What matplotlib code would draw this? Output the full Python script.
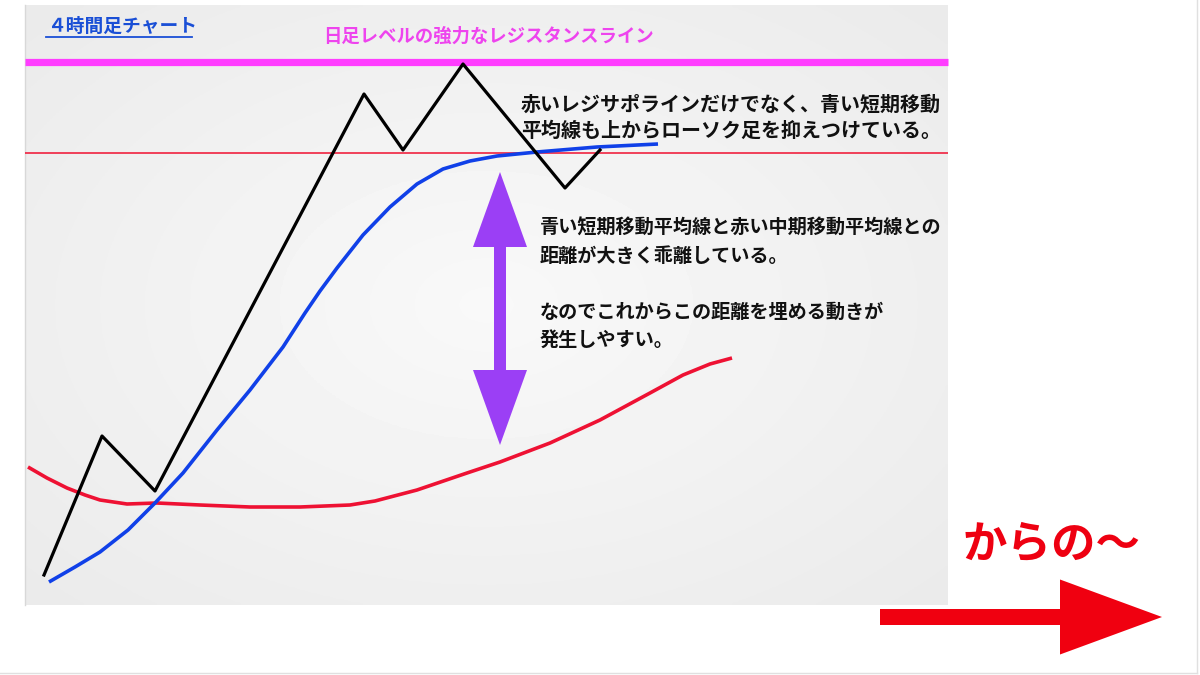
import numpy as np
import matplotlib
matplotlib.use('Agg')
import matplotlib.pyplot as plt
from matplotlib.patches import FancyArrow

plt.rcParams['font.family'] = ['Noto Sans CJK JP', 'DejaVu Sans']

# 画像座標（px）で読み取ったチャートの値
candle_x = [44, 102, 155, 364, 403, 463, 565, 600]
candle_y = [575, 436, 491, 94, 150, 64, 188, 150]

short_ma_x = [49, 75, 100, 128, 155, 183, 217, 250, 283, 305, 320, 337, 363, 390, 417, 443, 470, 497, 537, 597, 658]
short_ma_y = [582, 567, 552, 530, 503, 473, 430, 390, 347, 313, 291, 268, 235, 207, 184, 169, 161, 156, 152, 147, 144]

mid_ma_x = [28, 47, 67, 85, 100, 127, 157, 200, 250, 300, 350, 375, 417, 467, 500, 550, 600, 650, 683, 710, 732]
mid_ma_y = [467, 478, 488, 495, 500, 504, 503, 505, 507, 507, 505, 501, 490, 473, 462, 443, 420, 393, 375, 364, 358]

resist_daily = 62
resist_line = 153

title = '４時間足チャート'
resist_label = '日足レベルの強力なレジスタンスライン'
note1 = ['赤いレジサポラインだけでなく、青い短期移動', '平均線も上からローソク足を抑えつけている。']
note2 = ['青い短期移動平均線と赤い中期移動平均線との', '距離が大きく乖離している。', '',
         'なのでこれからこの距離を埋める動きが', '発生しやすい。']

fig = plt.figure(figsize=(12, 6.75), dpi=100)
ax = fig.add_axes([0, 0, 1, 1])
ax.set_xlim(0, 1200)
ax.set_ylim(675, 0)
ax.axis('off')

# パネル背景（薄いグレーのグラデーション）
px0, px1, py0, py1 = 25, 948, 5, 605
gx, gy = np.meshgrid(np.linspace(-1, 1, 300), np.linspace(-1, 1, 200))
r = np.sqrt(gx**2 + gy**2)
bg = 0.975 - 0.04 * r
ax.imshow(bg, cmap='gray', vmin=0, vmax=1, extent=[px0, px1, py1, py0], zorder=0, aspect='auto')
ax.plot([px0, px0], [py0, py1], color='#d8d8d8', lw=1, zorder=1)
ax.plot([1197, 1197], [0, 673], color='#e0e0e0', lw=1, zorder=1)
ax.plot([0, 1197], [673, 673], color='#e0e0e0', lw=1, zorder=1)

ax.hlines(resist_daily, px0, px1, color='#ff3dff', lw=5.2, zorder=2)
ax.hlines(resist_line, px0, px1, color='#f01030', lw=1.1, zorder=2)

ax.plot(mid_ma_x, mid_ma_y, color='#ee1133', lw=2.6, solid_capstyle='butt',
        solid_joinstyle='round', zorder=3)
ax.plot(short_ma_x, short_ma_y, color='#1040e8', lw=2.6, solid_capstyle='butt',
        solid_joinstyle='round', zorder=4)
ax.plot(candle_x, candle_y, color='black', lw=2.3, zorder=5)

# 紫の両矢印
ax.add_patch(FancyArrow(500, 308, 0, -136, width=12, head_width=54, head_length=75,
                        length_includes_head=True, color='#9b3ff5', lw=0, zorder=6))
ax.add_patch(FancyArrow(500, 308, 0, 137, width=12, head_width=54, head_length=75,
                        length_includes_head=True, color='#9b3ff5', lw=0, zorder=6))

# テキスト
ax.text(47, 26, title, color='#1a4fd6', fontsize=13.5, fontweight='bold', va='center', ha='left')
ax.plot([46, 192], [37, 37], color='#1a4fd6', lw=1.3)
ax.text(488, 36, resist_label, color='#ee44ee', fontsize=13.2, fontweight='bold', va='center', ha='center')
for i, s in enumerate(note1):
    ax.text(521, 104 + i * 26, s, fontsize=14.4, fontweight='bold', va='center', ha='left', color='#111111')
for i, s in enumerate(note2):
    ax.text(540, 228 + i * 28, s, fontsize=13.8, fontweight='bold', va='center', ha='left', color='#111111')

ax.text(963, 545, 'からの～', color='#ee0011', fontsize=32, fontweight='bold', va='center', ha='left')
ax.add_patch(FancyArrow(880, 617, 282, 0, width=16, head_width=75, head_length=102,
                        length_includes_head=True, color='#f00010', lw=0, zorder=6))

fig.savefig('out.png', dpi=100)
